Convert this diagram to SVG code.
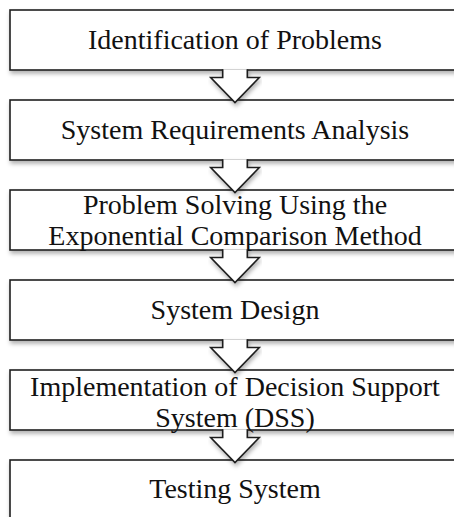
<svg xmlns="http://www.w3.org/2000/svg" width="454" height="517" viewBox="0 0 454 517">
  <style>
    .box { fill: #ffffff; stroke: #1e1e1e; stroke-width: 1.6; }
    .arrow { fill: #ffffff; stroke: #1e1e1e; stroke-width: 1.6; stroke-linejoin: miter; }
    .label { font-family: "Liberation Serif", "Times New Roman", serif; font-size: 28px; fill: #111111; text-anchor: middle; }
  </style>
  <defs>
    <filter id="shadow" x="-5%" y="-20%" width="110%" height="150%">
      <feDropShadow dx="1" dy="3" stdDeviation="2" flood-color="#000000" flood-opacity="0.3"/>
    </filter>
  </defs>

  <rect width="454" height="517" fill="#ffffff"/>

  <!-- process steps -->
  <g id="step-identification">
    <rect class="box" x="10" y="10" width="450" height="60" filter="url(#shadow)"/>
    <text class="label" x="235" y="49">Identification of Problems</text>
  </g>
  <g id="step-requirements">
    <rect class="box" x="10" y="100" width="450" height="60" filter="url(#shadow)"/>
    <text class="label" x="235" y="139">System Requirements Analysis</text>
  </g>
  <g id="step-problem-solving">
    <rect class="box" x="10" y="190" width="450" height="60" filter="url(#shadow)"/>
    <text class="label" x="235" y="214">Problem Solving Using the</text>
    <text class="label" x="235" y="245">Exponential Comparison Method</text>
  </g>
  <g id="step-design">
    <rect class="box" x="10" y="280" width="450" height="60" filter="url(#shadow)"/>
    <text class="label" x="235" y="319">System Design</text>
  </g>
  <g id="step-implementation">
    <rect class="box" x="10" y="370" width="450" height="60" filter="url(#shadow)"/>
    <text class="label" x="235" y="396">Implementation of Decision Support</text>
    <text class="label" x="235" y="427">System (DSS)</text>
  </g>
  <g id="step-testing">
    <rect class="box" x="10" y="460" width="450" height="60" filter="url(#shadow)"/>
    <text class="label" x="235" y="498">Testing System</text>
  </g>

  <!-- block arrows between steps (open path: the stem top stays unstroked) -->
  <g id="connectors">
    <path class="arrow" filter="url(#shadow)" d="M222.7,69.2 V77.5 H210.7 L235,102.5 L259.3,77.5 H247.3 V69.2"/>
    <path class="arrow" filter="url(#shadow)" d="M222.7,159.2 V167.5 H210.7 L235,192.5 L259.3,167.5 H247.3 V159.2"/>
    <path class="arrow" filter="url(#shadow)" d="M222.7,249.2 V257.5 H210.7 L235,282.5 L259.3,257.5 H247.3 V249.2"/>
    <path class="arrow" filter="url(#shadow)" d="M222.7,339.2 V347.5 H210.7 L235,372.5 L259.3,347.5 H247.3 V339.2"/>
    <path class="arrow" filter="url(#shadow)" d="M222.7,429.2 V437.5 H210.7 L235,462.5 L259.3,437.5 H247.3 V429.2"/>
  </g>
</svg>
